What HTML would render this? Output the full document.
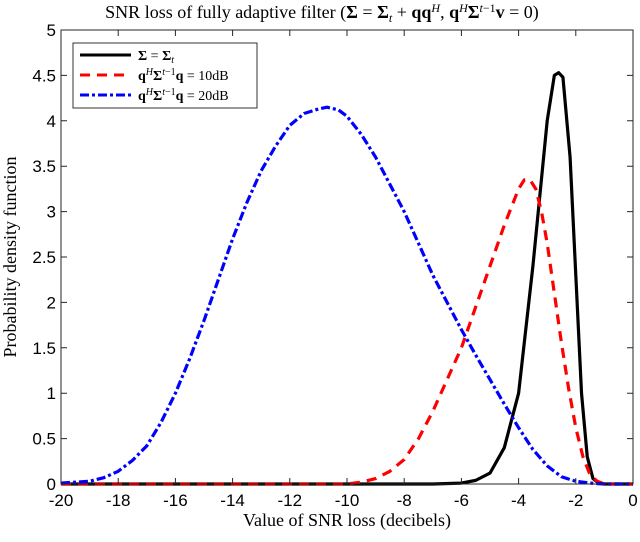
<!DOCTYPE html>
<html><head><meta charset="utf-8"><style>
body{margin:0;background:#fff;}
svg text{font-family:"Liberation Serif",serif;}
</style></head><body>
<svg width="640" height="537" viewBox="0 0 640 537">
<rect x="61" y="30" width="572" height="455" fill="#fff"/>
<g id="plot"></g>
<g id="axes"></g>
<text x="322" y="18" text-anchor="middle" font-size="18">SNR loss of fully adaptive filter (<tspan font-weight="bold">Σ</tspan> = <tspan font-weight="bold">Σ</tspan><tspan font-style="italic" font-size="12" dy="4">t</tspan><tspan dy="-4"> + </tspan><tspan font-weight="bold">qq</tspan><tspan font-style="italic" font-size="12" dy="-6">H</tspan><tspan dy="6">, </tspan><tspan font-weight="bold">q</tspan><tspan font-style="italic" font-size="12" dy="-6">H</tspan><tspan dy="6" font-weight="bold">Σ</tspan><tspan font-style="italic" font-size="12" dy="-6">t</tspan><tspan font-size="12">−1</tspan><tspan dy="6" font-weight="bold">v</tspan> = 0)</text>
<text x="347" y="526" text-anchor="middle" font-size="18">Value of SNR loss (decibels)</text>
<text transform="translate(16,257) rotate(-90)" text-anchor="middle" font-size="18">Probability density function</text>
<g>
<rect x="73" y="43" width="184" height="65" fill="#fff" stroke="#333" stroke-width="1"/>
<line x1="80" y1="55" x2="131" y2="55" stroke="#000" stroke-width="3"/>
<text x="138" y="60" font-size="14"><tspan font-weight="bold">Σ</tspan> = <tspan font-weight="bold">Σ</tspan><tspan font-style="italic" font-size="10" dy="3">t</tspan></text>
<line x1="80" y1="75" x2="131" y2="75" stroke="#f00" stroke-width="3" stroke-dasharray="10,7"/>
<text x="138" y="80" font-size="14"><tspan font-weight="bold">q</tspan><tspan font-style="italic" font-size="10" dy="-5">H</tspan><tspan dy="5" font-weight="bold">Σ</tspan><tspan font-style="italic" font-size="10" dy="-5">t</tspan><tspan font-size="10">−1</tspan><tspan dy="5" font-weight="bold">q</tspan> = 10dB</text>
<line x1="80" y1="95" x2="131" y2="95" stroke="#00f" stroke-width="3" stroke-dasharray="9,3,3,3"/>
<text x="138" y="100" font-size="14"><tspan font-weight="bold">q</tspan><tspan font-style="italic" font-size="10" dy="-5">H</tspan><tspan dy="5" font-weight="bold">Σ</tspan><tspan font-style="italic" font-size="10" dy="-5">t</tspan><tspan font-size="10">−1</tspan><tspan dy="5" font-weight="bold">q</tspan> = 20dB</text>
</g>
</svg>
<script>
const xTicks=[-20,-18,-16,-14,-12,-10,-8,-6,-4,-2,0];
const yTicks=[0,0.5,1,1.5,2,2.5,3,3.5,4,4.5,5];
const blackX=[-20,-7,-6,-5.5,-5,-4.5,-4,-3.5,-3,-2.75,-2.6,-2.45,-2.2,-2,-1.8,-1.6,-1.4,-1.2,-1,0];
const blackY=[0,0,0.01,0.04,0.12,0.4,1.0,2.4,4.0,4.5,4.53,4.48,3.6,2.3,1.0,0.3,0.06,0.01,0,0];
const redX=[-20,-10,-9.5,-9,-8.5,-8,-7.5,-7,-6.5,-6,-5.5,-5,-4.5,-4,-3.8,-3.6,-3.4,-3.2,-3,-2.75,-2.5,-2.25,-2,-1.75,-1.5,-1.25,-1,0];
const redY=[0,0,0.02,0.06,0.14,0.27,0.5,0.8,1.15,1.5,1.95,2.4,2.85,3.25,3.35,3.35,3.25,3.0,2.65,2.1,1.55,1.05,0.62,0.3,0.1,0.03,0,0];
const blueX=[-20,-19,-18.5,-18,-17.5,-17,-16.5,-16,-15.5,-15,-14.5,-14,-13.5,-13,-12.5,-12,-11.5,-11,-10.7,-10.3,-10,-9.5,-9,-8.5,-8,-7.5,-7,-6.5,-6,-5.5,-5,-4.5,-4,-3.5,-3,-2.5,-2,-1.5,-1,0];
const blueY=[0.01,0.03,0.07,0.14,0.26,0.42,0.68,1.0,1.38,1.8,2.25,2.7,3.1,3.45,3.72,3.95,4.08,4.13,4.15,4.12,4.05,3.85,3.6,3.3,3.0,2.65,2.3,2.0,1.7,1.42,1.15,0.88,0.62,0.38,0.2,0.08,0.03,0.01,0,0];
const X0=61,X1=633,Y0=484,Y1=30;
const sx=v=>X0+(v+20)/20*(X1-X0);
const sy=v=>Y0-v/5*(Y0-Y1);
const NS="http://www.w3.org/2000/svg";
const plot=document.getElementById('plot'),axes=document.getElementById('axes');
function line(xs,ys,color,dash,name){
  const p=document.createElementNS(NS,'polyline');
  p.setAttribute('points',xs.map((x,i)=>sx(x)+','+sy(ys[i])).join(' '));
  p.setAttribute('fill','none');p.setAttribute('stroke',color);p.setAttribute('stroke-width','3.2');
  p.setAttribute('stroke-linejoin','round');
  if(dash)p.setAttribute('stroke-dasharray',dash);
  
  
  plot.appendChild(p);
}
line(blackX,blackY,'#000',null,'series-sigma-line');
line(redX,redY,'#f00','10,7','series-10db-line');
line(blueX,blueY,'#00f','9,3,3,3','series-20db-line');
const frame=document.createElementNS(NS,'rect');
frame.setAttribute('x',X0);frame.setAttribute('y',Y1);frame.setAttribute('width',X1-X0);frame.setAttribute('height',Y0-Y1);
frame.setAttribute('fill','none');frame.setAttribute('stroke','#262626');frame.setAttribute('stroke-width','1');


axes.appendChild(frame);
xTicks.forEach(v=>{
  const x=sx(v);
  const t=document.createElementNS(NS,'path');
  t.setAttribute('d',`M${x},${Y0}v-6M${x},${Y1}v6`);t.setAttribute('stroke','#262626');
  
  
  axes.appendChild(t);
  const l=document.createElementNS(NS,'text');
  l.setAttribute('x',x);l.setAttribute('y',Y0+22);l.setAttribute('text-anchor','middle');
  l.setAttribute('font-size','17');l.setAttribute('style','font-family:"Liberation Sans",sans-serif');
  l.textContent=v;
  
  
  axes.appendChild(l);
});
yTicks.forEach(v=>{
  const y=sy(v);
  const t=document.createElementNS(NS,'path');
  t.setAttribute('d',`M${X0},${y}h6M${X1},${y}h-6`);t.setAttribute('stroke','#262626');
  
  
  axes.appendChild(t);
  const l=document.createElementNS(NS,'text');
  l.setAttribute('x',X0-5);l.setAttribute('y',y+6);l.setAttribute('text-anchor','end');
  l.setAttribute('font-size','17');l.setAttribute('style','font-family:"Liberation Sans",sans-serif');
  l.textContent=v;
  
  
  axes.appendChild(l);
});
</script>
</body></html>
